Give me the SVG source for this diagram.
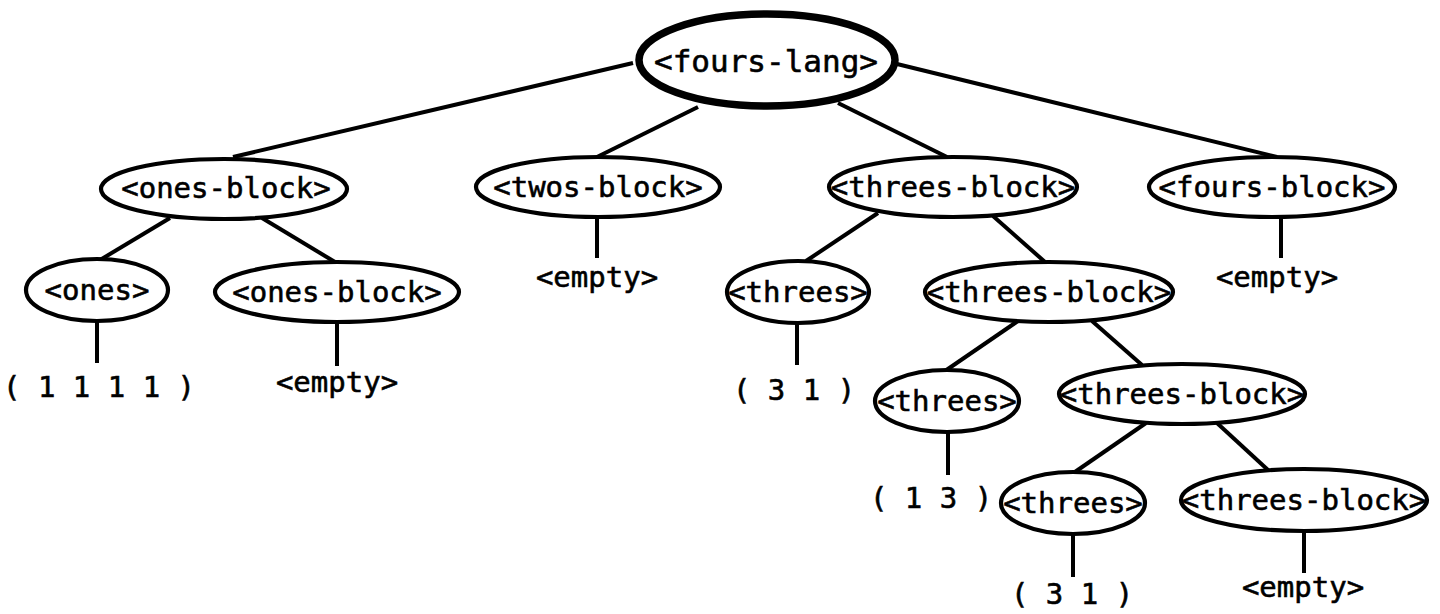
<svg xmlns="http://www.w3.org/2000/svg" width="1440" height="614" viewBox="0 0 1440 614">
<style>
.n ellipse{fill:#fff;stroke:#000;stroke-width:4.2}
.root ellipse{stroke-width:7.5}
text{font-family:"DejaVu Sans Mono","Liberation Mono",monospace;font-size:29px;fill:#000;stroke:#000;stroke-width:0.6;text-anchor:middle}
.root text{font-size:31px}
#edges line{stroke:#000;stroke-width:4}
</style>
<rect width="1440" height="614" fill="#fff"/>
<g id="edges">
<line x1="633" y1="63" x2="233" y2="157"/>
<line x1="698" y1="107" x2="597" y2="157"/>
<line x1="838" y1="103" x2="947" y2="157"/>
<line x1="897" y1="64" x2="1277" y2="157"/>
<line x1="170" y1="218" x2="100" y2="260"/>
<line x1="262" y1="218" x2="335" y2="262"/>
<line x1="597" y1="216" x2="597" y2="258"/>
<line x1="1281" y1="216" x2="1281" y2="258"/>
<line x1="878" y1="213" x2="806" y2="261"/>
<line x1="993" y1="216" x2="1045" y2="262"/>
<line x1="97" y1="320" x2="97" y2="363"/>
<line x1="337" y1="320" x2="337" y2="366"/>
<line x1="797" y1="320" x2="797" y2="365"/>
<line x1="1018" y1="321" x2="945" y2="371"/>
<line x1="1092" y1="321" x2="1142" y2="365"/>
<line x1="948" y1="430" x2="948" y2="475"/>
<line x1="1146" y1="423" x2="1072" y2="474"/>
<line x1="1217" y1="423" x2="1268" y2="470"/>
<line x1="1073" y1="530" x2="1073" y2="577"/>
<line x1="1304" y1="528" x2="1304" y2="573"/>
</g>
<g id="root" class="n root"><ellipse cx="767" cy="60" rx="128" ry="46"/><text x="766" y="72">&lt;fours-lang&gt;</text></g>
<g id="ones-block" class="n"><ellipse cx="224" cy="189" rx="123" ry="30"/><text x="226" y="198">&lt;ones-block&gt;</text></g>
<g id="twos-block" class="n"><ellipse cx="598" cy="187" rx="122" ry="30"/><text x="598" y="197">&lt;twos-block&gt;</text></g>
<g id="threes-block" class="n"><ellipse cx="953" cy="187" rx="124" ry="30"/><text x="953" y="197">&lt;threes-block&gt;</text></g>
<g id="fours-block" class="n"><ellipse cx="1272" cy="187" rx="123" ry="30"/><text x="1272" y="197">&lt;fours-block&gt;</text></g>
<g id="ones" class="n"><ellipse cx="97" cy="290" rx="71" ry="31"/><text x="97" y="300">&lt;ones&gt;</text></g>
<g id="ones-block-2" class="n"><ellipse cx="337" cy="292" rx="122" ry="30"/><text x="337" y="302">&lt;ones-block&gt;</text></g>
<g id="threes-1" class="n"><ellipse cx="798" cy="292" rx="71" ry="31"/><text x="798" y="302">&lt;threes&gt;</text></g>
<g id="threes-block-2" class="n"><ellipse cx="1049" cy="292" rx="124" ry="30"/><text x="1049" y="302">&lt;threes-block&gt;</text></g>
<g id="threes-2" class="n"><ellipse cx="947" cy="401" rx="72" ry="31"/><text x="947" y="411">&lt;threes&gt;</text></g>
<g id="threes-block-3" class="n"><ellipse cx="1182" cy="394" rx="123" ry="30"/><text x="1182" y="404">&lt;threes-block&gt;</text></g>
<g id="threes-3" class="n"><ellipse cx="1073" cy="503" rx="72" ry="31"/><text x="1073" y="513">&lt;threes&gt;</text></g>
<g id="threes-block-4" class="n"><ellipse cx="1304" cy="500" rx="123" ry="31"/><text x="1304" y="510">&lt;threes-block&gt;</text></g>
<g id="leaf-ones"><text x="99" y="397">( 1 1 1 1 )</text></g>
<g id="leaf-empty-1"><text x="337" y="392">&lt;empty&gt;</text></g>
<g id="leaf-empty-2"><text x="597" y="287">&lt;empty&gt;</text></g>
<g id="leaf-empty-3"><text x="1277" y="287">&lt;empty&gt;</text></g>
<g id="leaf-31-a"><text x="794" y="400">( 3 1 )</text></g>
<g id="leaf-13"><text x="931" y="508">( 1 3 )</text></g>
<g id="leaf-31-b"><text x="1072" y="604">( 3 1 )</text></g>
<g id="leaf-empty-4"><text x="1303" y="597">&lt;empty&gt;</text></g>
</svg>
